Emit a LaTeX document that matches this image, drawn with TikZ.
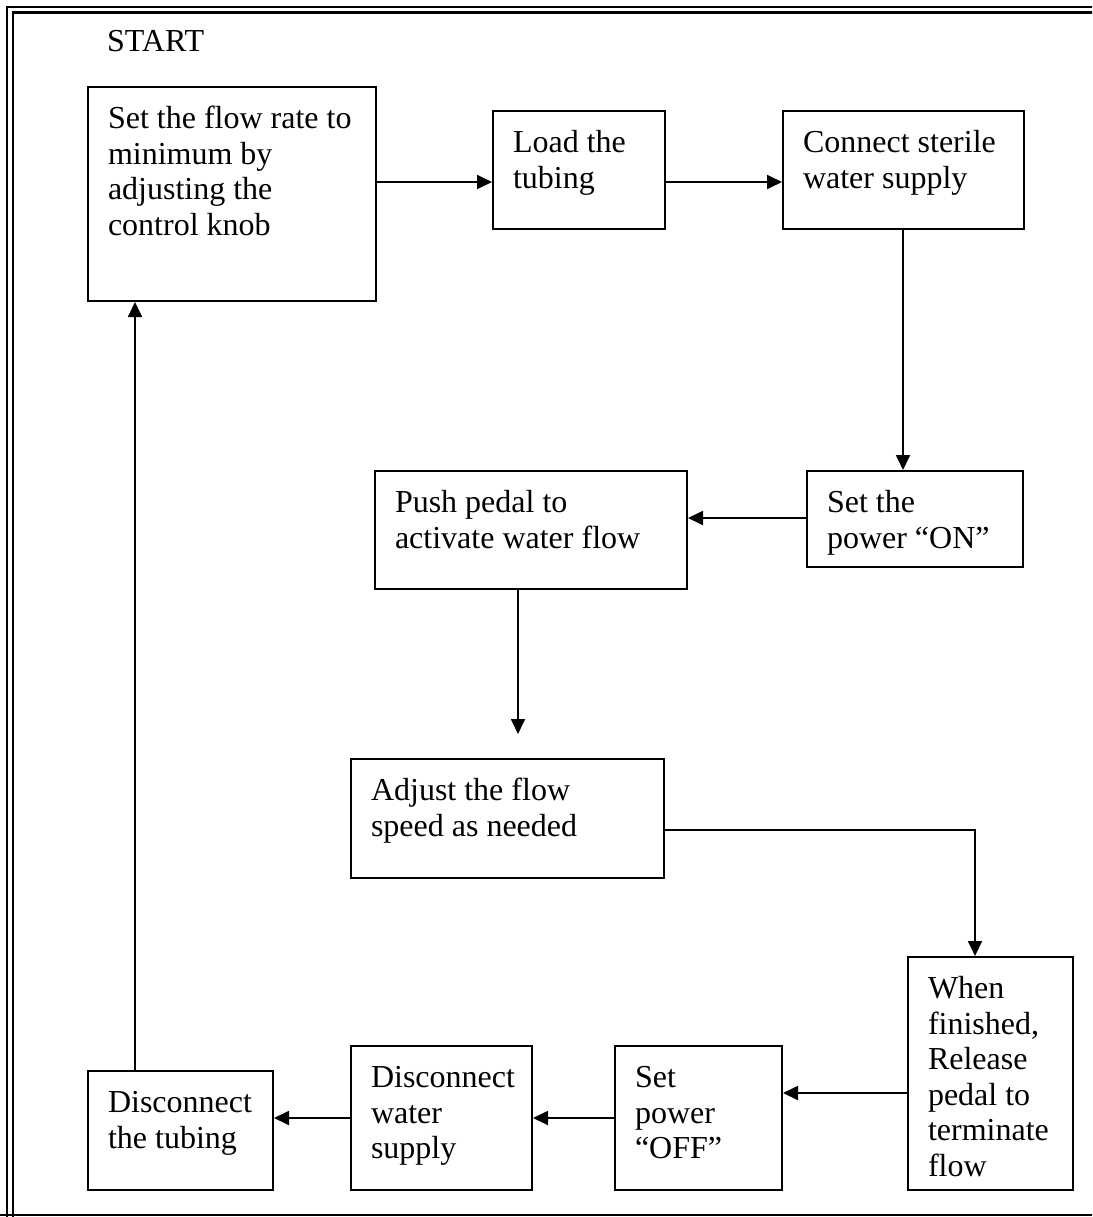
\documentclass[tikz,border=0pt]{standalone}
\usepackage{fontspec}
\setmainfont{Liberation Serif}
\usetikzlibrary{arrows.meta}
\tikzset{
  every node/.style={font=\fontsize{32pt}{35.5pt}\selectfont},
  box/.style={draw, line width=2pt, anchor=north west, inner sep=0pt},
  conn/.style={line width=1.8pt, -{Triangle[length=15pt,width=14pt]}},
  frameline/.style={line width=2.2pt},
}
\newcommand{\bxtext}[3]{\parbox[c][#2pt][t]{#1pt}{\vspace*{17pt}\hspace*{20pt}\begin{tabular}[t]{@{}l@{}}#3\end{tabular}}}
\begin{document}
\begin{tikzpicture}[x=1pt,y=-1pt]
\useasboundingbox (0,0) rectangle (1092,1217);
\clip (0,0) rectangle (1092,1217);
% frame
\draw[frameline] (7,1240) -- (7,7) -- (1100,7);
\draw[frameline] (13,1240) -- (13,12.5) -- (1100,12.5);
\draw[frameline] (0,1215) -- (1100,1215);
% start label
\node[anchor=base west, inner sep=0pt] (start) at (107,52) {START};
% boxes
\node[box] (b1) at (87,86) {\bxtext{288}{214}{Set the flow rate to\\minimum by\\adjusting the\\control knob}};
\node[box] (b2) at (492,110) {\bxtext{172}{118}{Load the\\tubing}};
\node[box] (b3) at (782,110) {\bxtext{241}{118}{Connect sterile\\water supply}};
\node[box] (b4) at (806,470) {\bxtext{216}{96}{Set the\\power “ON”}};
\node[box] (b5) at (374,470) {\bxtext{312}{118}{Push pedal to\\activate water flow}};
\node[box] (b6) at (350,758) {\bxtext{313}{119}{Adjust the flow\\speed as needed}};
\node[box] (b7) at (907,956) {\bxtext{165}{233}{When\\finished,\\Release\\pedal to\\terminate\\flow}};
\node[box] (b8) at (614,1045) {\bxtext{167}{144}{Set\\power\\“OFF”}};
\node[box] (b9) at (350,1045) {\bxtext{181}{144}{Disconnect\\water\\supply}};
\node[box] (b10) at (87,1070) {\bxtext{185}{119}{Disconnect\\the tubing}};
% connectors
\draw[conn] (b1.east |- 0,182) -- (b2.west |- 0,182);
\draw[conn] (b2.east |- 0,182) -- (b3.west |- 0,182);
\draw[conn] (b3.south -| 903,0) -- (b4.north -| 903,0);
\draw[conn] (b4.west |- 0,518) -- (b5.east |- 0,518);
\draw[conn, shorten >=24pt] (b5.south -| 518,0) -- (b6.north -| 518,0);
\coordinate (bend) at (975,830);
\draw[conn] (b6.east |- bend) -- (bend) -- (b7.north -| bend);
\draw[conn] (b7.west |- 0,1093) -- (b8.east |- 0,1093);
\draw[conn] (b8.west |- 0,1118) -- (b9.east |- 0,1118);
\draw[conn] (b9.west |- 0,1118) -- (b10.east |- 0,1118);
\draw[conn] (b10.north -| 135,0) -- (b1.south -| 135,0);
\end{tikzpicture}
\end{document}
